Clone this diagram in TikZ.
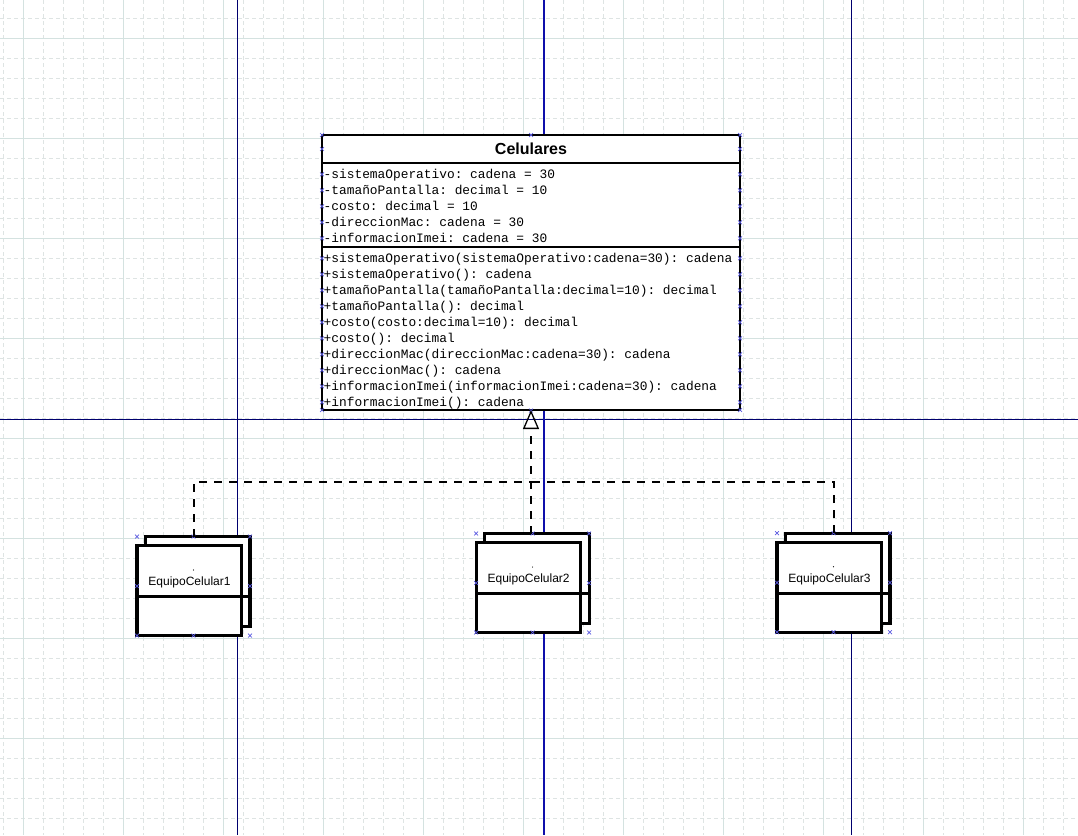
\documentclass[tikz,border=0pt]{standalone}
\usepackage{fontspec}
\setmainfont{Liberation Sans}
\newfontfamily\umlmono{Liberation Mono}
\usetikzlibrary{arrows.meta}
\definecolor{gridmajor}{RGB}{212,226,224}
\definecolor{gridminor}{RGB}{222,228,227}
\definecolor{guide}{RGB}{0,0,110}
\definecolor{guidemid}{RGB}{15,15,170}
\definecolor{handle}{RGB}{90,90,225}

\begin{document}
\frenchspacing
\begin{tikzpicture}[x=1pt,y=-1pt,
  minorgrid/.style={gridminor,line width=1pt,dash pattern=on 4pt off 3pt},
  majorgrid/.style={gridmajor,line width=1pt},
  guideline/.style={guide,line width=1.1pt},
  boxline/.style={draw=black,line width=3.1pt,fill=white},
  classbox/.style={draw=black,line width=2.2pt,fill=white,minimum width=418pt,
    minimum height=275pt,inner sep=0pt,outer sep=0pt},
  member/.style={anchor=base west,inner sep=0pt,
    font=\umlmono\fontsize{12.85}{16}\selectfont\frenchspacing},
  realize/.style={line width=2pt,dash pattern=on 8pt off 7pt},
  hx/.pic={\draw[handle,line width=0.7pt] (-1.9,-1.9)--(1.9,1.9) (-1.9,1.9)--(1.9,-1.9);},
  multiobj/.pic={
    \node[inner sep=0pt,outer sep=0pt,minimum width=113pt,minimum height=99pt] (-bb) at (0,0) {};
    \draw[boxline] (-48,-49.5) rectangle (56.5,40.5);
    \draw[boxline] (-56.5,-40.5) rectangle (48,49.5);
    \draw[line width=3.1pt] (-56.5,10.5) -- (56.5,10.5);
    \fill (0,-16) circle (0.6pt);
    \node[font=\fontsize{12}{14}\selectfont,inner sep=0pt] (-name) at (-4,-3.3) {#1};
    \foreach \hxpos in {(-56.5,-49.5),(0,-49.5),(56.5,-49.5),(-56.5,0),(56.5,0),
                        (-56.5,49.5),(0,49.5),(56.5,49.5)}
      \pic at \hxpos {hx};
  }]

% canvas
\fill[white] (0,0) rectangle (1078,835);
\useasboundingbox (0,0) rectangle (1078,835);

% background grid
\foreach \gx in {3,23,...,1063} \draw[minorgrid] (\gx,0) -- (\gx,835);
\foreach \gy in {18,38,...,818} \draw[minorgrid] (0,\gy) -- (1078,\gy);
\foreach \gx in {23,123,...,1023} \draw[majorgrid] (\gx,0) -- (\gx,835);
\foreach \gy in {38,138,...,738} \draw[majorgrid] (0,\gy) -- (1078,\gy);

% page guides
\draw[guideline] (237.3,0) -- (237.3,835);
\draw[guideline] (851.3,0) -- (851.3,835);
\draw[guideline] (0,419.3) -- (1078,419.3);
\draw[guideline,guidemid] (544,0) -- (544,835);

% class Celulares
\node[classbox] (cel) at (531,272.5) {};
\node[font=\bfseries\fontsize{16}{19}\selectfont,inner sep=0pt] (celname) at (531,149) {Celulares};
\draw[line width=2.2pt] (322,162.7) -- (740,162.7);
\draw[line width=2.2pt] (322,246.7) -- (740,246.7);

\foreach \txt [count=\i] in {
  {-sistemaOperativo: cadena = 30},
  {-tamañoPantalla: decimal = 10},
  {-costo: decimal = 10},
  {-direccionMac: cadena = 30},
  {-informacionImei: cadena = 30}}
  \node[member] (attr\i) at (323.5,{162.3+16*\i}) {\txt};

\foreach \txt [count=\i] in {
  {+sistemaOperativo(sistemaOperativo:cadena=30): cadena},
  {+sistemaOperativo(): cadena},
  {+tamañoPantalla(tamañoPantalla:decimal=10): decimal},
  {+tamañoPantalla(): decimal},
  {+costo(costo:decimal=10): decimal},
  {+costo(): decimal},
  {+direccionMac(direccionMac:cadena=30): cadena},
  {+direccionMac(): cadena},
  {+informacionImei(informacionImei:cadena=30): cadena},
  {+informacionImei(): cadena}}
  \node[member] (op\i) at (323.5,{246.3+16*\i}) {\txt};

% connection handles of the class
\foreach \hy in {135,149,174.3,190.3,206.3,222.3,238.3,258.3,274.3,290.3,306.3,
                 322.3,338.3,354.3,370.3,386.3,402.3,410} {
  \pic at (322,\hy) {hx};
  \pic at (740,\hy) {hx};
}
\pic at (531,135) {hx};
\pic at (531,410.5) {hx};

% multi-object instances
\pic (e1) at (193.5,586) {multiobj=EquipoCelular1};
\pic (e2) at (532.6,583) {multiobj=EquipoCelular2};
\pic (e3) at (833.5,582.7) {multiobj=EquipoCelular3};

% realization connectors
\coordinate (join) at (531,482);
\draw[realize] (e1-bb.north) |- (join);
\draw[realize] (e3-bb.north) |- (join);
\draw[realize,-{Triangle[open,length=19pt,width=16pt,line width=1.3pt]}]
  (e2-bb.north -| cel.south) -- (cel.south);

\end{tikzpicture}
\end{document}
